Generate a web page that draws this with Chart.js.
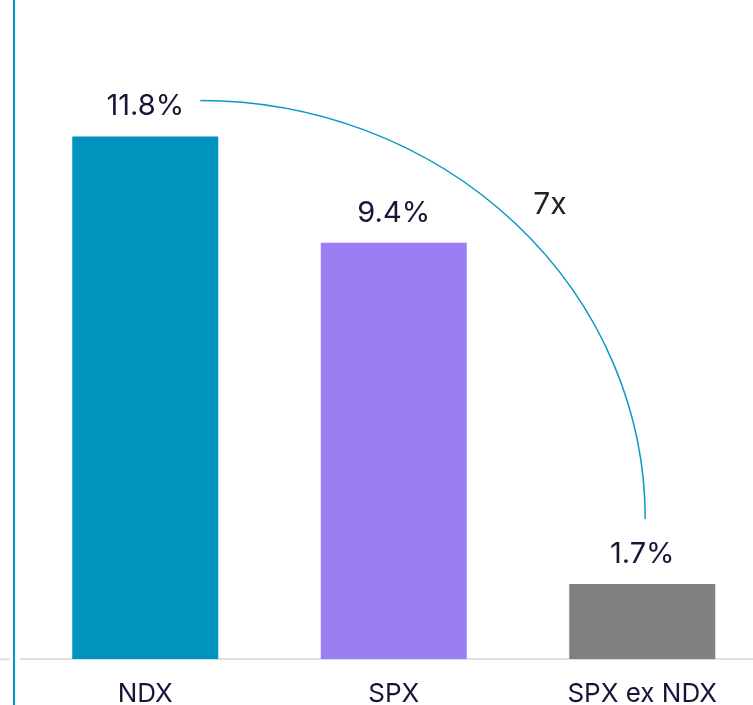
<!DOCTYPE html>
<html>
<head>
<meta charset="utf-8">
<script src="https://cdn.jsdelivr.net/npm/chart.js@4"></script>
<style>
  html, body { margin: 0; padding: 0; background: #fff; overflow: hidden; }
  #wrap { position: relative; width: 780px; height: 730px; }
</style>
</head>
<body>
<div id="wrap"><canvas id="growth_Chart"></canvas></div>
<script>
// categories and values
const categories = ['NDX', 'SPX', 'SPX ex NDX'];
const growth = [11.8, 9.4, 1.7];
const barColors = ['#0093be', '#9b7ef1', '#808080'];
const multipleLabel = '7x';

const textColor = '#16163a';
const fontFamily = 'Inter, "Noto Sans", sans-serif';

// value labels above the bars, the arc and the side rule
const overlay = {
  id: 'overlay',
  afterDatasetsDraw(chart) {
    const ctx = chart.ctx;
    const x = chart.scales.x;
    const y = chart.scales.y;
    const bars = chart.getDatasetMeta(0).data;

    ctx.save();
    ctx.fillStyle = textColor;
    ctx.font = '29px ' + fontFamily;
    ctx.textAlign = 'center';
    ctx.textBaseline = 'alphabetic';
    bars.forEach((bar, i) => {
      ctx.fillText(growth[i].toFixed(1) + '%', bar.x, bar.y - 21);
    });

    // arc from the first label round to the last one
    const sx = x.getPixelForValue(0) + 55;
    const sy = y.getPixelForValue(growth[0]) - 36;
    const ex = x.getPixelForValue(2) + 3;
    const ey = y.getPixelForValue(growth[2]) - 65;
    ctx.beginPath();
    ctx.strokeStyle = '#0a9ac4';
    ctx.lineWidth = 1.5;
    ctx.ellipse(sx, ey, ex - sx, ey - sy, 0, -Math.PI / 2, 0);
    ctx.stroke();

    ctx.fillStyle = '#222';
    ctx.font = '30px ' + fontFamily;
    ctx.textAlign = 'center';
    ctx.fillText(multipleLabel, 550, 214);

    // side rule and the axis stub left of it
    ctx.fillStyle = '#0096c8';
    ctx.fillRect(13, 0, 2, chart.height);
    ctx.fillStyle = '#e0e0e0';
    ctx.fillRect(0, x.top - 1, 10, 2);
    ctx.restore();
  }
};

const data = {
  labels: categories,
  datasets: [{
    data: growth,
    backgroundColor: barColors,
    borderWidth: 0,
    barPercentage: 0.5875,
    categoryPercentage: 1
  }]
};

const config = {
  type: 'bar',
  data: data,
  options: {
    responsive: true,
    maintainAspectRatio: false,
    animation: false,
    layout: { padding: { left: 21, right: 13.5, top: 39, bottom: 1.6 } },
    plugins: {
      legend: { display: false },
      tooltip: { enabled: false }
    },
    scales: {
      x: {
        grid: { display: false, drawTicks: false },
        border: { display: true, color: '#e0e0e0', width: 2 },
        ticks: {
          color: textColor,
          font: { family: fontFamily, size: 26 },
          padding: 19
        }
      },
      y: {
        display: false,
        min: 0,
        max: 14
      }
    }
  },
  plugins: [overlay]
};

const myChart = new Chart(
  document.getElementById('growth_Chart'),
  config
);
</script>
</body>
</html>
